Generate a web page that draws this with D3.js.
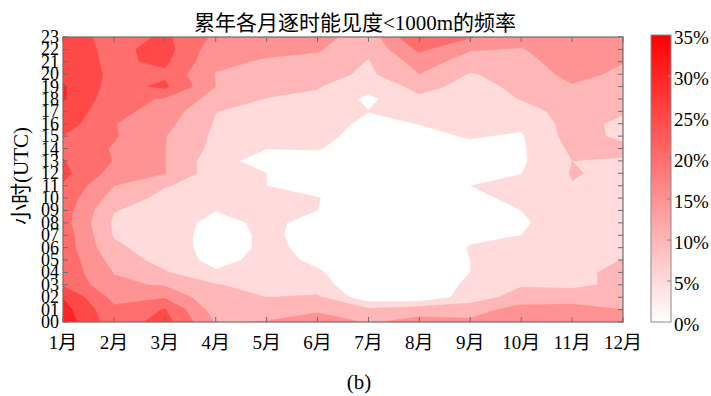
<!DOCTYPE html>
<html>
<head>
<meta charset="utf-8">
<script src="https://cdn.jsdelivr.net/npm/d3@7"></script>
<style>
  html, body { margin: 0; padding: 0; background: #fff; }
  svg { display: block; }
  text { font-family: "Liberation Serif", "Times New Roman", "Noto Sans CJK SC", serif; fill: #000; }
</style>
</head>
<body>
<svg id="chart" width="711" height="396"></svg>
<script>
// Months along x, hours (UTC) along y
const months = ["1月","2月","3月","4月","5月","6月","7月","8月","9月","10月","11月","12月"];
const hours = d3.range(24).map(h => String(h).padStart(2, "0"));
const levels = [0, 5, 10, 15, 20, 25, 30, 35];
const colorbarTicks = ["0%","5%","10%","15%","20%","25%","30%","35%"];

// Frequency (%) of visibility < 1000 m, one row per hour 00..23, one value per month
const h00 = [33, 22, 27, 14.5, 15.3, 18, 14.5, 16.5, 16, 18, 17.5, 16.5];
const h01 = [32, 21, 25.3, 12.5, 12.5, 14, 11, 13, 12.8, 17, 17, 15];
const h02 = [29.8, 18.5, 19.5, 11, 10, 10.9, 1.5, 1, 7.5, 12, 12.5, 12];
const h03 = [24.5, 16, 14.5, 10.3, 8, 6.5, 2, 1.5, 6, 9.6, 9, 11];
const h04 = [23.5, 14.8, 10.5, 5.5, 7, 5.5, 2, 1.5, 5, 7, 9, 11];
const h05 = [23.5, 13, 8, 3.5, 6.5, 4.2, 2, 1.5, 5, 6.5, 8.5, 10.1];
const h06 = [23, 11, 7.5, 3, 5.8, 4, 2, 1.5, 5.3, 6, 8, 9];
const h07 = [23, 9.6, 7.5, 3, 5.8, 3.5, 2, 1.5, 4, 5, 7.5, 8];
const h08 = [22, 9.2, 7.5, 3.5, 6, 3.5, 2, 1.5, 3, 4.5, 7, 8];
const h09 = [22.5, 10.2, 8, 5.1, 6.5, 5, 2, 1.5, 3.5, 5, 7.5, 8];
const h10 = [23, 13, 8.5, 7.5, 6, 5.2, 2, 1.5, 4, 6, 8, 8];
const h11 = [24.5, 15, 10.3, 8, 5, 3, 2, 1.5, 5, 6, 9.8, 8.5];
const h12 = [26.5, 18, 15.1, 7, 5, 2.5, 2, 2, 4.9, 4.9, 10.3, 9];
const h13 = [25.3, 19.8, 15.1, 7, 2.7, 3, 2, 2, 3.5, 4.3, 10, 9.5];
const h14 = [24, 19.5, 15.1, 8.5, 5.1, 5.3, 2.5, 3, 4, 4.3, 10.9, 11.2];
const h15 = [25, 20.5, 15.2, 9, 6.5, 6.5, 3, 4, 5.3, 4.5, 12, 9];
const h16 = [27.5, 20.2, 16.5, 9.5, 7.5, 7, 4, 5.1, 6, 6, 12, 8.8];
const h17 = [28.5, 21.5, 18, 10.1, 8.5, 8, 5.1, 7, 6.5, 8, 12, 10.5];
const h18 = [30.5, 22, 19.5, 13, 9.8, 9, 4, 9, 7.5, 10.2, 13, 11.5];
const h19 = [30.6, 23, 26, 15, 12, 10.3, 6.5, 11.5, 8.5, 11, 14.5, 12.5];
const h20 = [28.5, 24, 24, 14.8, 13, 12, 9, 15, 9.6, 12, 16.5, 14];
const h21 = [27.5, 24, 26, 16, 14.5, 13.5, 9.7, 17, 13, 13, 18, 15.2];
const h22 = [28, 23.5, 27, 17, 16, 15.5, 11, 21, 15.3, 14.7, 18, 16.5];
const h23 = [29, 22, 26, 19, 17.5, 17, 12, 25.5, 20.5, 17, 17.5, 14.5];

const rows = [h00,h01,h02,h03,h04,h05,h06,h07,h08,h09,h10,h11,
              h12,h13,h14,h15,h16,h17,h18,h19,h20,h21,h22,h23];

const nx = months.length, ny = hours.length;
const grid = rows.flat();

const svg = d3.select("#chart");
svg.append("rect").attr("width", 711).attr("height", 396).attr("fill", "#fff");

const plot = { left: 63, right: 623, top: 37, bottom: 322 };

const x = d3.scaleLinear().domain([1, nx]).range([plot.left, plot.right]);
const y = d3.scaleLinear().domain([0, ny - 1]).range([plot.bottom, plot.top]);

const color = d3.scaleLinear().domain([0, 35]).range(["#ffffff", "#ff0000"]);

// Grid coordinate g maps to month g + 0.5 and hour g - 0.5 (value i sits at i + 0.5)
const proj = d3.geoTransform({
  point: function(gx, gy) { this.stream.point(x(gx + 0.5), y(gy - 0.5)); }
});
const path = d3.geoPath(proj);

svg.append("clipPath").attr("id", "plotClip")
  .append("rect")
  .attr("x", plot.left).attr("y", plot.top)
  .attr("width", plot.right - plot.left).attr("height", plot.bottom - plot.top);

const contours = d3.contours()
  .size([nx, ny])
  .smooth(true)
  .thresholds(levels.slice(1, -1))(grid);

const g = svg.append("g").attr("clip-path", "url(#plotClip)");
g.append("rect")
  .attr("x", plot.left).attr("y", plot.top)
  .attr("width", plot.right - plot.left).attr("height", plot.bottom - plot.top)
  .attr("fill", color(levels[0]));
g.selectAll("path.band")
  .data(contours)
  .join("path")
  .attr("class", "band")
  .attr("d", path)
  .attr("fill", d => color(d.value))
  .attr("stroke", d => color(d.value))
  .attr("stroke-width", 0.4);

// Frame and inward ticks
const frameColor = "#6e6e6e";
const tickLen = 5;
const axisG = svg.append("g").attr("stroke", frameColor).attr("fill", "none");
axisG.append("rect")
  .attr("x", plot.left).attr("y", plot.top)
  .attr("width", plot.right - plot.left).attr("height", plot.bottom - plot.top)
  .attr("stroke-width", 1.2);

months.forEach((m, i) => {
  const px = x(i + 1);
  axisG.append("line").attr("x1", px).attr("x2", px)
    .attr("y1", plot.bottom).attr("y2", plot.bottom - tickLen);
  axisG.append("line").attr("x1", px).attr("x2", px)
    .attr("y1", plot.top).attr("y2", plot.top + tickLen);
});
hours.forEach((h, i) => {
  const py = y(i);
  axisG.append("line").attr("x1", plot.left).attr("x2", plot.left + tickLen)
    .attr("y1", py).attr("y2", py);
  axisG.append("line").attr("x1", plot.right).attr("x2", plot.right - tickLen)
    .attr("y1", py).attr("y2", py);
});

// Axis labels
svg.append("g").selectAll("text")
  .data(months)
  .join("text")
  .attr("x", (d, i) => x(i + 1))
  .attr("y", 349)
  .attr("text-anchor", "middle")
  .attr("font-size", 19)
  .text(d => d);

svg.append("g").selectAll("text")
  .data(hours)
  .join("text")
  .attr("x", 59)
  .attr("y", (d, i) => y(i) + 6)
  .attr("text-anchor", "end")
  .attr("font-size", 18)
  .text(d => d);

svg.append("text")
  .attr("transform", "translate(28,176) rotate(-90)")
  .attr("text-anchor", "middle")
  .attr("font-size", 21)
  .text("小时(UTC)");

svg.append("text")
  .attr("x", 355).attr("y", 30)
  .attr("text-anchor", "middle")
  .attr("font-size", 21)
  .text("累年各月逐时能见度<1000m的频率");

svg.append("text")
  .attr("x", 359).attr("y", 389)
  .attr("text-anchor", "middle")
  .attr("font-size", 21)
  .text("(b)");

// Colorbar
const cb = { x: 651, w: 20, top: 35, bottom: 322 };
const cbScale = d3.scaleLinear().domain([0, 35]).range([cb.bottom, cb.top]);
const grad = svg.append("defs").append("linearGradient")
  .attr("id", "cbGrad").attr("x1", 0).attr("y1", 1).attr("x2", 0).attr("y2", 0);
grad.append("stop").attr("offset", 0).attr("stop-color", color(0));
grad.append("stop").attr("offset", 1).attr("stop-color", color(35));
svg.append("rect")
  .attr("x", cb.x).attr("y", cb.top)
  .attr("width", cb.w).attr("height", cb.bottom - cb.top)
  .attr("fill", "url(#cbGrad)")
  .attr("stroke", "#8a8a8a").attr("stroke-width", 1);
levels.forEach((v, i) => {
  const py = cbScale(v);
  if (i > 0 && i < levels.length - 1) {
    svg.append("line")
      .attr("x1", cb.x + cb.w).attr("x2", cb.x + cb.w - 4)
      .attr("y1", py).attr("y2", py)
      .attr("stroke", "#8a8a8a");
  }
  svg.append("text")
    .attr("x", 674).attr("y", py + 9)
    .attr("font-size", 19)
    .text(colorbarTicks[i]);
});
</script>
</body>
</html>
